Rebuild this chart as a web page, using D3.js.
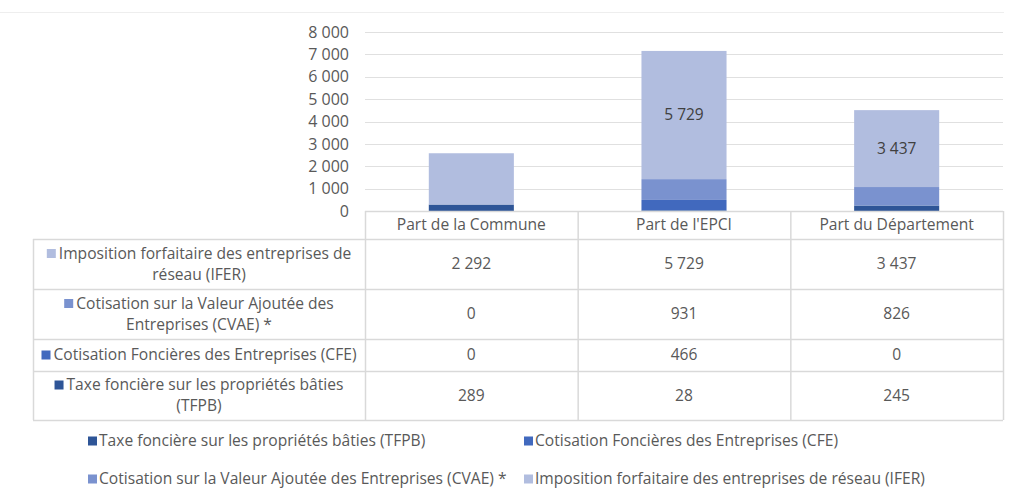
<!DOCTYPE html>
<html>
<head>
<meta charset="utf-8">
<script src="https://cdn.jsdelivr.net/npm/d3@7"></script>
<style>
  body { margin: 0; background: #fff; }
  text { font-family: "Open Sans", Lato, sans-serif; fill: #595959; }
</style>
</head>
<body>
<div id="wrapper"></div>
<script>
// data
const categories = ["Part de la Commune", "Part de l'EPCI", "Part du Département"];
const seriesNames = [
  "Taxe foncière sur les propriétés bâties (TFPB)",
  "Cotisation Foncières des Entreprises (CFE)",
  "Cotisation sur la Valeur Ajoutée des Entreprises (CVAE) *",
  "Imposition forfaitaire des entreprises de réseau (IFER)"
];
const tfpb = [289, 28, 245];
const cfe = [0, 466, 0];
const cvae = [0, 931, 826];
const ifer = [2292, 5729, 3437];
const yTicks = [0, 1000, 2000, 3000, 4000, 5000, 6000, 7000, 8000];
// which IFER segments carry a data label in the original
const iferLabelShown = [false, true, true];
// table row labels, split into lines (top row = IFER)
const rowLabelLines = [
  ["Imposition forfaitaire des entreprises de", "réseau (IFER)"],
  ["Cotisation sur la Valeur Ajoutée des", "Entreprises (CVAE) *"],
  ["Cotisation Foncières des Entreprises (CFE)"],
  ["Taxe foncière sur les propriétés bâties", "(TFPB)"]
];

var dimension = {
  width: 1012,
  height: 499,
  plotLeft: 365,
  plotRight: 1003,
  plotTop: 32,
  plotBottom: 211,
  labelLeft: 33,
  headerH: 28,
  rowH: [50, 50, 32, 49],
  fontSize: 15.6
};

const colors = ["#2E5597", "#4169BE", "#7A92CF", "#B1BDDF"];
const fr = d3.formatLocale({decimal: ",", thousands: " ", grouping: [3], currency: ["", " €"]});
const fmt = fr.format(",");

const svg = d3.select("#wrapper").append("svg")
  .attr("width", dimension.width)
  .attr("height", dimension.height);

// faint page line at top
svg.append("line")
  .attr("x1", 0).attr("x2", 1004).attr("y1", 12.5).attr("y2", 12.5)
  .attr("stroke", "#eeeeee");

const x = d3.scaleBand()
  .domain(categories)
  .range([dimension.plotLeft, dimension.plotRight])
  .paddingInner(0.6)
  .paddingOuter(0.3);

const col = d3.scaleBand()
  .domain(categories)
  .range([dimension.plotLeft, dimension.plotRight]);

const y = d3.scaleLinear()
  .domain([0, 8000])
  .range([dimension.plotBottom, dimension.plotTop]);

// gridlines
svg.append("g")
  .selectAll("line")
  .data(yTicks)
  .join("line")
  .attr("x1", dimension.plotLeft)
  .attr("x2", dimension.plotRight)
  .attr("y1", d => Math.round(y(d)) + 0.5)
  .attr("y2", d => Math.round(y(d)) + 0.5)
  .attr("stroke", "#e0e0e0")
  .attr("stroke-width", 1.2);

// y axis
const yAxis = svg.append("g")
  .attr("transform", `translate(${dimension.plotLeft - 16},0)`)
  .call(d3.axisLeft(y).tickValues(yTicks).tickSize(0).tickFormat(fmt));
yAxis.select(".domain").remove();
yAxis.selectAll("text")
  .attr("x", 0)
  .style("font-size", "16px")
  .style("font-family", "'Open Sans', sans-serif")
  .attr("fill", "#595959");

// stack
const rows = categories.map((c, i) => ({cat: c, s0: tfpb[i], s1: cfe[i], s2: cvae[i], s3: ifer[i]}));
const stack = d3.stack().keys(["s0", "s1", "s2", "s3"])(rows);

svg.append("g")
  .selectAll("g")
  .data(stack)
  .join("g")
  .attr("fill", (d, i) => colors[i])
  .selectAll("rect")
  .data(d => d)
  .join("rect")
  .attr("x", d => x(d.data.cat))
  .attr("width", x.bandwidth())
  .attr("y", d => y(d[1]))
  .attr("height", d => y(d[0]) - y(d[1]));

// data labels on IFER
svg.append("g")
  .selectAll("text")
  .data(stack[3].filter((d, i) => iferLabelShown[i]))
  .join("text")
  .attr("x", d => x(d.data.cat) + x.bandwidth() / 2)
  .attr("y", d => (y(d[0]) + y(d[1])) / 2)
  .attr("dy", "0.35em")
  .attr("text-anchor", "middle")
  .style("font-size", "15.5px")
  .style("fill", "#404040")
  .text(d => fmt(d[1] - d[0]));

// table
const table = svg.append("g");
const border = "#d9d9d9";
const tableTop = dimension.plotBottom;
const headBottom = tableTop + dimension.headerH;
const rowY = [headBottom];
dimension.rowH.forEach(h => rowY.push(rowY[rowY.length - 1] + h));
const tableBottom = rowY[rowY.length - 1];

// header cells
table.selectAll(".hdr")
  .data(categories)
  .join("text")
  .attr("class", "hdr")
  .attr("x", d => col(d) + col.bandwidth() / 2)
  .attr("y", tableTop + dimension.headerH / 2)
  .attr("dy", "0.35em")
  .attr("text-anchor", "middle")
  .style("font-size", dimension.fontSize + "px")
  .text(d => d);

// horizontal borders
table.append("line")
  .attr("x1", dimension.plotLeft).attr("x2", dimension.plotRight)
  .attr("y1", tableTop + 0.5).attr("y2", tableTop + 0.5)
  .attr("stroke", border).attr("stroke-width", 1.5);
table.selectAll(".hl")
  .data(rowY)
  .join("line")
  .attr("class", "hl")
  .attr("x1", dimension.labelLeft).attr("x2", dimension.plotRight)
  .attr("y1", d => d + 0.5).attr("y2", d => d + 0.5)
  .attr("stroke", border).attr("stroke-width", 1.5);
// vertical borders
const vx = categories.map(c => col(c)).concat([dimension.plotRight]);
table.selectAll(".vl")
  .data(vx)
  .join("line")
  .attr("class", "vl")
  .attr("x1", d => d + 0.5).attr("x2", d => d + 0.5)
  .attr("y1", tableTop).attr("y2", tableBottom)
  .attr("stroke", border).attr("stroke-width", 1.5);
table.append("line")
  .attr("x1", dimension.labelLeft + 0.5).attr("x2", dimension.labelLeft + 0.5)
  .attr("y1", headBottom).attr("y2", tableBottom)
  .attr("stroke", border).attr("stroke-width", 1.5);

// table rows: top row IFER, then CVAE, CFE, TFPB
const tableSeries = [
  {values: ifer, color: colors[3]},
  {values: cvae, color: colors[2]},
  {values: cfe, color: colors[1]},
  {values: tfpb, color: colors[0]}
];
const labelCenter = (dimension.labelLeft + dimension.plotLeft) / 2;
tableSeries.forEach((s, r) => {
  const cy = (rowY[r] + rowY[r + 1]) / 2;
  const lines = rowLabelLines[r];
  const lh = 21;
  const g = table.append("g");
  lines.forEach((ln, k) => {
    const ty = cy + (k - (lines.length - 1) / 2) * lh;
    const t = g.append("text")
      .attr("x", labelCenter + (k === 0 ? 6 : 0))
      .attr("y", ty)
      .attr("dy", "0.35em")
      .attr("text-anchor", "middle")
      .style("font-size", dimension.fontSize + "px")
      .text(ln);
    if (k === 0) {
      const w = t.node().getComputedTextLength();
      g.append("rect")
        .attr("x", labelCenter + 6 - w / 2 - 12)
        .attr("y", ty - 4.5)
        .attr("width", 9).attr("height", 9)
        .attr("fill", s.color);
    }
  });
  table.append("g")
    .selectAll("text")
    .data(s.values)
    .join("text")
    .attr("x", (d, i) => col(categories[i]) + col.bandwidth() / 2)
    .attr("y", cy)
    .attr("dy", "0.35em")
    .attr("text-anchor", "middle")
    .style("font-size", dimension.fontSize + "px")
    .text(d => fmt(d));
});

// legend
const legendItems = [
  {name: seriesNames[0], color: colors[0], x: 88, y: 441},
  {name: seriesNames[1], color: colors[1], x: 524, y: 441},
  {name: seriesNames[2], color: colors[2], x: 88, y: 479},
  {name: seriesNames[3], color: colors[3], x: 524, y: 479}
];
const legend = svg.append("g")
  .selectAll("g")
  .data(legendItems)
  .join("g")
  .attr("transform", d => `translate(${d.x},${d.y})`);
legend.append("rect")
  .attr("x", 0).attr("y", -4.5)
  .attr("width", 9).attr("height", 9)
  .attr("fill", d => d.color);
legend.append("text")
  .attr("x", 11)
  .attr("dy", "0.35em")
  .style("font-size", dimension.fontSize + "px")
  .text(d => d.name);
</script>
</body>
</html>
